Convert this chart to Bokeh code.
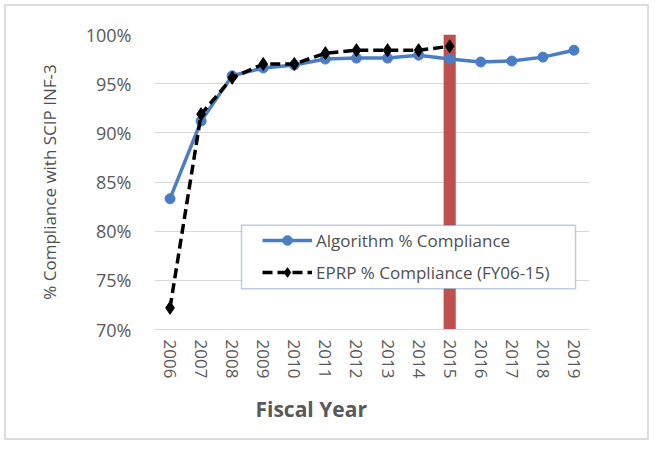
from bokeh.plotting import figure
from bokeh.models import (FactorRange, Range1d, PrintfTickFormatter, Legend, LegendItem,
                          BoxAnnotation, Title, ColumnDataSource)
from bokeh.embed import file_html
from bokeh.resources import INLINE

# Fiscal years on the category axis
years = ["2006", "2007", "2008", "2009", "2010", "2011", "2012",
         "2013", "2014", "2015", "2016", "2017", "2018", "2019"]

# % compliance with SCIP INF-3, algorithm-based measure (FY06-19)
algorithm_pct = [83.3, 91.2, 95.8, 96.6, 96.9, 97.5, 97.6,
                 97.6, 97.9, 97.5, 97.2, 97.3, 97.7, 98.4]

# % compliance reported by EPRP chart review (FY06-15 only)
eprp_years = ["2006", "2007", "2008", "2009", "2010", "2011", "2012",
              "2013", "2014", "2015"]
eprp_pct = [72.2, 91.9, 95.6, 97.0, 97.0, 98.1, 98.4, 98.4, 98.4, 98.8]

# Year at which the EPRP series ends, shown as a full-height band
marker_year = ["2015"]
band_bottom = [70]
band_top = [100]

y_ticks = [70, 75, 80, 85, 90, 95, 100]

FONT = "Open Sans"
GREY = "#595959"

p = figure(
    width=645, height=436,
    x_range=FactorRange(*years, range_padding=0),
    y_range=Range1d(70, 100),
    output_backend="svg", toolbar_location=None,
    min_border_left=148, min_border_right=62,
    min_border_top=28, min_border_bottom=113,
)
p.margin = (4, 0, 0, 4)
p.styles = {"border": "2px solid #DCDCDC"}
p.outline_line_color = None
p.background_fill_color = "white"
p.border_fill_color = "white"

# grid
p.xgrid.grid_line_color = None
p.ygrid.grid_line_color = "#D9D9D9"
p.ygrid.grid_line_width = 1
p.yaxis.ticker = y_ticks

# axes
p.yaxis.formatter = PrintfTickFormatter(format="%d%%")
p.yaxis.axis_line_color = None
p.yaxis.major_tick_line_color = None
p.yaxis.minor_tick_line_color = None
p.yaxis.major_label_standoff = 17
p.yaxis.major_label_text_font = FONT
p.yaxis.major_label_text_font_size = "18px"
p.yaxis.major_label_text_color = GREY
p.yaxis.axis_label = "% Compliance with SCIP INF-3"
p.yaxis.axis_label_text_font = FONT
p.yaxis.axis_label_text_font_size = "17px"
p.yaxis.axis_label_text_font_style = "normal"
p.yaxis.axis_label_text_color = "#505050"
p.yaxis.axis_label_standoff = 22

p.xaxis.axis_line_color = "#D9D9D9"
p.xaxis.major_tick_line_color = None
p.xaxis.minor_tick_line_color = None
p.xaxis.major_label_orientation = "vertical"
p.xaxis.major_label_standoff = 4
p.xaxis.major_label_text_font = FONT
p.xaxis.major_label_text_font_size = "17px"
p.xaxis.major_label_text_color = GREY

# band marking the end of the EPRP series
band_src = ColumnDataSource(dict(x=marker_year, bottom=band_bottom, top=band_top))
p.vbar(x="x", bottom="bottom", top="top", width=0.39, source=band_src,
       fill_color="#C0504D", line_color=None)

# algorithm series
alg_src = ColumnDataSource(dict(x=years, y=algorithm_pct))
alg_line = p.line("x", "y", source=alg_src, line_color="#4A7EC4", line_width=3.5)
alg_pts = p.scatter("x", "y", source=alg_src, marker="circle", size=10,
                    fill_color="#4A7EC4", line_color="#4A7EC4")

# EPRP series
eprp_src = ColumnDataSource(dict(x=eprp_years, y=eprp_pct))
eprp_line = p.line("x", "y", source=eprp_src, line_color="black", line_width=3.5,
                   line_dash="10 5")
eprp_pts = p.scatter("x", "y", source=eprp_src, marker="diamond", size=13,
                     fill_color="black", line_color="black")

# legend frame, drawn underneath the legend entries
legend_box = BoxAnnotation(left=2.8, right=13.55, top=80.6, bottom=74.15,
                           fill_color="white", fill_alpha=1.0,
                           line_color="#2F5597", line_width=1.5)
p.add_layout(legend_box)

legend = Legend(items=[
    LegendItem(label="Algorithm % Compliance", renderers=[alg_line, alg_pts]),
    LegendItem(label="EPRP % Compliance (FY06-15)", renderers=[eprp_line, eprp_pts]),
], location=(108, 45))
legend.border_line_color = None
legend.background_fill_alpha = 0
legend.padding = 4
legend.margin = 0
legend.spacing = 8
legend.glyph_width = 50
legend.glyph_height = 24
legend.label_height = 24
legend.label_standoff = 4
legend.label_text_font = FONT
legend.label_text_font_size = "17px"
legend.label_text_color = "#505050"
p.add_layout(legend)

# x axis title, set left of the frame centre
p.add_layout(Title(text="Fiscal Year", align="left", offset=101, standoff=22,
                   text_font=FONT, text_font_size="21px", text_font_style="bold",
                   text_color=GREY), "below")

open("out.html", "w").write(file_html(p, INLINE))
